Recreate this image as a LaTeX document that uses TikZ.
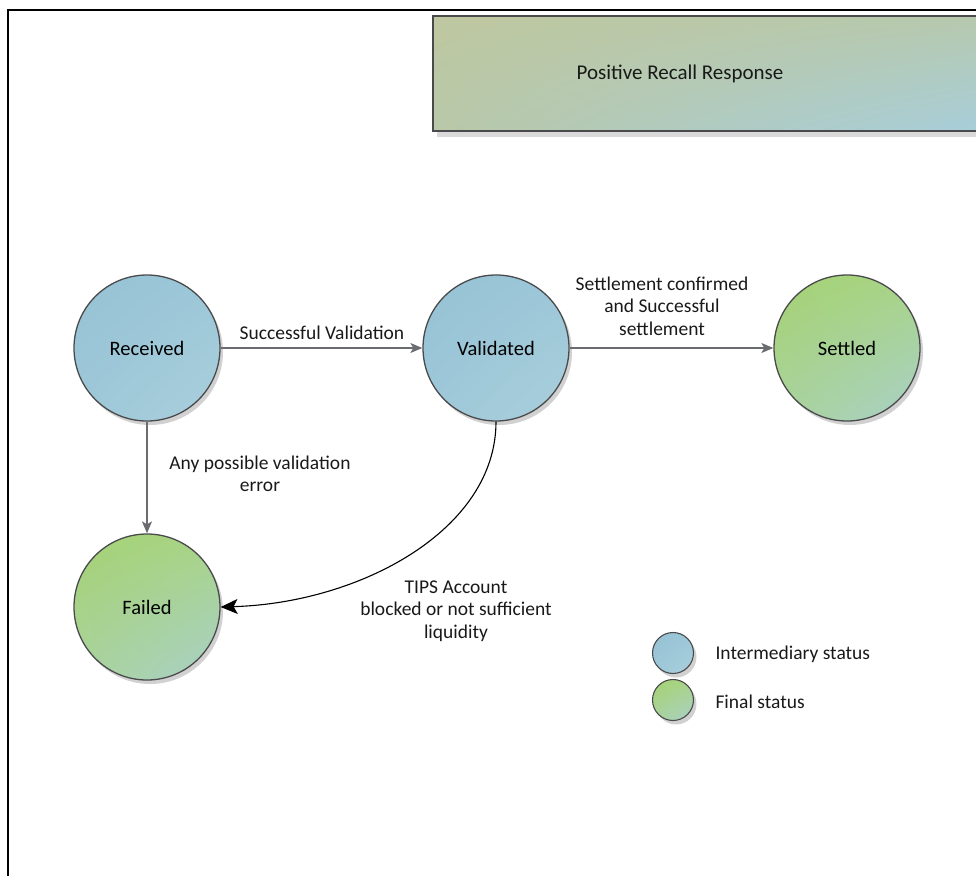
\documentclass[tikz,border=0pt]{standalone}
\usepackage{fontspec}
\setmainfont{Carlito}
\usetikzlibrary{arrows.meta,shadows,shadings}
\definecolor{circborder}{HTML}{4A4A4C}
\definecolor{edgegray}{HTML}{6B6C70}
\definecolor{bUL}{HTML}{95C2D5}
\definecolor{bUR}{HTML}{9CC7D8}
\definecolor{bLL}{HTML}{9EC8D8}
\definecolor{bLR}{HTML}{AACFDC}
\definecolor{gUL}{HTML}{A5D273}
\definecolor{gUR}{HTML}{A8D486}
\definecolor{gLL}{HTML}{A9D39C}
\definecolor{gLR}{HTML}{A9D0C9}
\definecolor{tUL}{HTML}{BEC7A0}
\definecolor{tUR}{HTML}{B6C9AE}
\definecolor{tLL}{HTML}{B8C8A8}
\definecolor{tLR}{HTML}{A7CEDC}
\begin{document}
\begin{tikzpicture}[x=1pt,y=-1pt,
  statenode/.style={circle, draw=circborder, line width=1.3pt, minimum size=146pt, inner sep=0pt,
    font=\fontsize{20.5}{24}\selectfont,
    drop shadow={shadow xshift=3pt, shadow yshift=-4pt, opacity=0.18, fill=black}},
  interm/.style={statenode, upper left=bUL, upper right=bUR, lower left=bLL, lower right=bLR},
  final/.style={statenode, upper left=gUL, upper right=gUR, lower left=gLL, lower right=gLR},
  legcirc/.style={circle, draw=circborder, line width=1.1pt, minimum size=41pt, inner sep=0pt,
    drop shadow={shadow xshift=3pt, shadow yshift=-4pt, opacity=0.18, fill=black}},
  lbl/.style={font=\fontsize{19.5}{22.5}\selectfont, align=center, text=black!90},
  gedge/.style={draw=edgegray, line width=1.1pt, -{Stealth[length=12pt,width=10pt,inset=3pt,fill=edgegray]}},
  bedge/.style={draw=black, line width=1.1pt, -{Stealth[length=17pt,width=15pt,inset=4pt]}}
]
\useasboundingbox (0,0) rectangle (976,875);
% frame
\draw[line width=2.4pt] (8,880) -- (8,10) -- (990,10);
% title box
\fill[black, opacity=0.15] (437,132) rectangle (995,137);
\draw[draw=circborder, line width=1.4pt, upper left=tUL, upper right=tUR, lower left=tLL, lower right=tLR]
  (433,16) rectangle (995,131);
\node[lbl, font=\fontsize{21}{24}\selectfont] (title) at (680,74) {Positive Recall Response};
% states
\node[interm] (rec) at (147,348) {Received};
\node[interm] (val) at (496,348) {Validated};
\node[final] (set) at (847,348) {Settled};
\node[final] (fail) at (147,607) {Failed};
% edges
\draw[gedge] (rec) -- (val);
\node[lbl] (l1) at (322,333) {Successful Validation};
\draw[gedge] (rec) -- (fail);
\node[lbl] (l2) at (260,474) {Any possible validation\\error};
\draw[gedge] (val) -- (set);
\node[lbl] (l3) at (662,306) {Settlement confirmed\\and Successful\\settlement};
\draw[bedge] (val.south) .. controls (496,530) and (360,603) .. (fail.east);
\node[lbl] (l4) at (456,611) {TIPS Account\\blocked or not sufficient\\liquidity};
% legend
\node[legcirc, upper left=bUL, upper right=bUR, lower left=bLL, lower right=bLR] (lg1) at (673,653) {};
\node[legcirc, upper left=gUL, upper right=gUR, lower left=gLL, lower right=gLR] (lg2) at (673,700) {};
\node[lbl, anchor=west] (lt1) at (712,654) {Intermediary status};
\node[lbl, anchor=west] (lt2) at (712,702) {Final status};
\end{tikzpicture}
\end{document}
